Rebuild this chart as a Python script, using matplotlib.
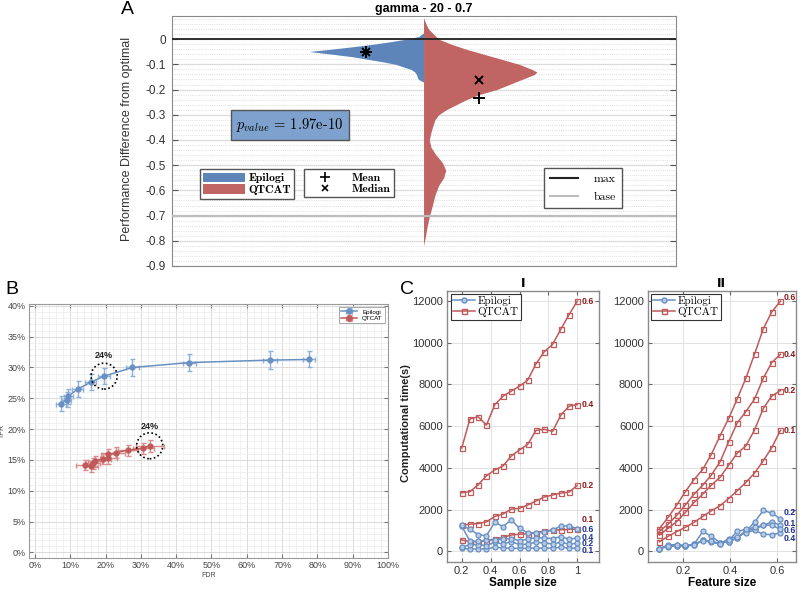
import matplotlib
matplotlib.use('Agg')
import matplotlib.pyplot as plt
from matplotlib.patches import Patch, Ellipse
from matplotlib.lines import Line2D
from matplotlib.ticker import MultipleLocator, PercentFormatter
from matplotlib.font_manager import FontProperties

plt.rcParams['mathtext.fontset'] = 'cm'
plt.rcParams['font.family'] = ['Liberation Sans', 'DejaVu Sans']
plt.rcParams['axes.unicode_minus'] = False

# ---------------- DATA ----------------
# Panel A: split violin (half-widths at given performance-difference levels)
A_title = 'gamma - 20 - 0.7'
A_yticks = [0, -0.1, -0.2, -0.3, -0.4, -0.5, -0.6, -0.7, -0.8, -0.9]
epi_y = [0.025, 0.01, 0.0, -0.01, -0.02, -0.03, -0.04, -0.049, -0.06, -0.07, -0.08,
         -0.09, -0.10, -0.11, -0.12, -0.13, -0.14, -0.15, -0.16, -0.17]
epi_w = [0.0, 0.02, 0.07, 0.13, 0.20, 0.28, 0.37, 0.454, 0.36, 0.28, 0.22,
         0.16, 0.11, 0.08, 0.05, 0.035, 0.028, 0.025, 0.02, 0.0]
qt_y = [0.085, 0.06, 0.04, 0.02, 0.0, -0.02, -0.04, -0.06, -0.08, -0.10, -0.12, -0.13,
        -0.14, -0.16, -0.18, -0.20, -0.22, -0.24, -0.26, -0.28, -0.30, -0.32, -0.35,
        -0.38, -0.40, -0.43, -0.46, -0.49, -0.52, -0.55, -0.58, -0.62, -0.66, -0.70,
        -0.74, -0.78, -0.82]
qt_w = [0.0, 0.01, 0.02, 0.04, 0.06, 0.11, 0.17, 0.24, 0.31, 0.38, 0.43, 0.45,
        0.44, 0.39, 0.34, 0.29, 0.22, 0.17, 0.13, 0.09, 0.06, 0.045, 0.035,
        0.027, 0.023, 0.03, 0.05, 0.075, 0.088, 0.08, 0.06, 0.045, 0.035, 0.024,
        0.015, 0.008, 0.0]
epi_mean, epi_median = -0.049, -0.049
qt_mean, qt_median = -0.232, -0.163
ref_max, ref_base = 0.0, -0.7
p_value = '1.97e-10'

# Panel B: FDR / TPR with error bars
fdr_epi = [0.075, 0.090, 0.094, 0.121, 0.158, 0.196, 0.276, 0.437, 0.667, 0.776]
tpr_epi = [0.241, 0.248, 0.253, 0.265, 0.276, 0.286, 0.300, 0.308, 0.312, 0.313]
fdr_err_epi = [0.014, 0.013, 0.013, 0.015, 0.016, 0.017, 0.019, 0.019, 0.020, 0.017]
tpr_err_epi = [0.012, 0.012, 0.012, 0.013, 0.013, 0.013, 0.014, 0.014, 0.014, 0.013]
fdr_qt = [0.142, 0.160, 0.165, 0.170, 0.193, 0.208, 0.208, 0.231, 0.264, 0.307, 0.325]
tpr_qt = [0.142, 0.140, 0.145, 0.148, 0.152, 0.153, 0.159, 0.162, 0.166, 0.169, 0.173]
fdr_err_qt = [0.025, 0.020, 0.020, 0.020, 0.022, 0.025, 0.022, 0.025, 0.028, 0.030, 0.040]
tpr_err_qt = [0.008, 0.009, 0.009, 0.009, 0.009, 0.009, 0.009, 0.009, 0.009, 0.009, 0.010]
circ_epi_idx, circ_qt_idx = 5, 10
circ_label = '24%'

# Panel C: computational time
sample_size = [0.2, 0.257, 0.314, 0.371, 0.429, 0.486, 0.543, 0.6, 0.657, 0.714,
               0.771, 0.829, 0.886, 0.943, 1.0]
feature_size = [0.1, 0.137, 0.173, 0.21, 0.247, 0.284, 0.32, 0.357, 0.394, 0.43,
                0.467, 0.504, 0.541, 0.577, 0.614]
levels = ['0.1', '0.2', '0.4', '0.6']

qt_sample = {
    '0.6': [4950, 6350, 6450, 6050, 7030, 7440, 7680, 7920, 8210, 8990, 9570, 9920, 10650, 11350, 12000],
    '0.4': [2810, 2860, 3190, 3620, 3900, 4090, 4570, 4860, 5130, 5800, 5850, 5750, 6530, 6960, 7030],
    '0.2': [1250, 1300, 1330, 1410, 1670, 1790, 2020, 2060, 2220, 2410, 2600, 2700, 2790, 2840, 3160],
    '0.1': [540, 460, 460, 510, 590, 670, 780, 820, 840, 900, 970, 1020, 1030, 1050, 1060],
}
epi_sample = {
    '0.6': [1250, 1050, 800, 740, 1400, 1180, 1510, 1100, 880, 880, 920, 1020, 1210, 1210, 1090],
    '0.4': [1210, 480, 480, 530, 560, 580, 610, 510, 580, 650, 640, 610, 700, 580, 640],
    '0.2': [190, 320, 320, 270, 430, 350, 460, 320, 350, 430, 400, 350, 430, 350, 380],
    '0.1': [140, 110, 110, 110, 190, 160, 140, 140, 140, 160, 140, 160, 190, 160, 140],
}
qt_feature = {
    '0.6': [1090, 1630, 2210, 2860, 3440, 3930, 4640, 5530, 6370, 7300, 8300, 9460, 10670, 11480, 12000],
    '0.4': [960, 1300, 1720, 2220, 2740, 3170, 3650, 4280, 5250, 6150, 6700, 7300, 8300, 9050, 9450],
    '0.2': [780, 1100, 1420, 1860, 2340, 2740, 3170, 3540, 4130, 4700, 5050, 5820, 6850, 7440, 7710],
    '0.1': [460, 720, 940, 1150, 1390, 1670, 1940, 2180, 2530, 2900, 3300, 3750, 4340, 4970, 5800],
}
epi_feature = {
    '0.2': [130, 300, 320, 260, 330, 950, 720, 420, 450, 650, 950, 1400, 1960, 1830, 1550],
    '0.1': [130, 240, 270, 240, 340, 520, 470, 390, 460, 620, 1000, 1050, 1250, 1400, 1250],
    '0.6': [130, 270, 300, 280, 320, 500, 480, 330, 520, 950, 1050, 1150, 1250, 1250, 1050],
    '0.4': [130, 220, 260, 230, 310, 520, 430, 360, 600, 700, 900, 1000, 820, 800, 880],
}

# ---------------- STYLE ----------------
BLUE_FILL = '#5d85ba'
RED_FILL = '#c16464'
BLUE = '#6890c3'
BLUE_ERR = '#8fb0d8'
RED = '#c05a5a'
RED_ERR = '#d98c8a'
DARK_RED = '#8b1c1c'
NAVY = '#1f2f8f'
TXT = '#333333'

fig = plt.figure(figsize=(8, 5.92), dpi=100)

# ================= PANEL A =================
axA = fig.add_axes([0.2144, 0.5507, 0.63, 0.4223])
axA.fill_betweenx(epi_y, [-w for w in epi_w], 0, color=BLUE_FILL, lw=0, zorder=2)
axA.fill_betweenx(qt_y, 0, qt_w, color=RED_FILL, lw=0, zorder=2)
axA.axhline(ref_max, color='#222222', lw=1.3, zorder=3)
axA.axhline(ref_base, color='#bdbdbd', lw=1.6, zorder=3)
axA.set_xlim(-1, 1)
axA.set_ylim(-0.9, 0.092)
axA.set_xticks([])
axA.set_yticks(A_yticks)
axA.set_yticklabels(['0' if v == 0 else f'{v:.1f}' for v in A_yticks])
axA.yaxis.set_minor_locator(MultipleLocator(0.02))
axA.yaxis.grid(True, which='major', color='#dcdcdc', lw=0.9, zorder=0)
axA.yaxis.grid(True, which='minor', color='#d4d4d4', lw=0.6, ls=':', zorder=0)
axA.set_axisbelow(True)
axA.tick_params(axis='y', which='major', direction='in', left=True, right=True,
                length=4, labelsize=8.5, labelcolor=TXT, color='#555', pad=4)
axA.tick_params(axis='y', which='minor', length=0)
for s in axA.spines.values():
    s.set_color('#8a8a8a')
axA.set_title(A_title, fontsize=9, fontweight='bold', pad=3)
axA.set_ylabel('Performance Difference from optimal', fontsize=9, color=TXT)
axA.yaxis.set_label_coords(-0.077, 0.51)

x_epi_mark, x_qt_mark = -0.227, 0.222
axA.plot([x_epi_mark], [epi_mean], marker='+', color='k', ms=8, mew=1.4, zorder=5)
axA.plot([x_epi_mark], [epi_median], marker='x', color='k', ms=6, mew=1.4, zorder=5)
axA.plot([x_qt_mark], [qt_mean], marker='+', color='k', ms=8, mew=1.4, zorder=5)
axA.plot([x_qt_mark], [qt_median], marker='x', color='k', ms=6, mew=1.4, zorder=5)

axA.text(0.235, 0.563, r'$p_{value}$ = ' + p_value, transform=axA.transAxes,
         ha='center', va='center', fontsize=10.5, family='cmr10', zorder=6,
         bbox=dict(boxstyle='square,pad=0.4', fc='#7ea1cd', ec='#555555', lw=1))

leg_kw = dict(frameon=True, fancybox=False, edgecolor='#555555', framealpha=1,
              borderaxespad=0)
leg1 = axA.legend(handles=[Patch(fc=BLUE_FILL), Patch(fc=RED_FILL)],
                  labels=['Epilogi', 'QTCAT'], loc='upper left',
                  bbox_to_anchor=(0.056, 0.388),
                  prop=FontProperties(family='cmb10', size=8.5),
                  handlelength=3.5, handleheight=0.9, handletextpad=0.3,
                  borderpad=0.3, labelspacing=0.05, **leg_kw)
leg1.get_frame().set_linewidth(1.0)
axA.add_artist(leg1)
leg2 = axA.legend(handles=[Line2D([], [], ls='none', marker='+', color='k', ms=7, mew=1.2),
                           Line2D([], [], ls='none', marker='x', color='k', ms=5, mew=1.2)],
                  labels=['Mean', 'Median'], loc='upper left',
                  bbox_to_anchor=(0.262, 0.388),
                  prop=FontProperties(family='cmb10', size=8.5),
                  handlelength=3.0, handletextpad=0.8, borderpad=0.3,
                  labelspacing=0.05, **leg_kw)
leg2.get_frame().set_linewidth(1.0)
axA.add_artist(leg2)
leg3 = axA.legend(handles=[Line2D([], [], color='#222222', lw=1.5),
                           Line2D([], [], color='#bdbdbd', lw=1.5)],
                  labels=['max', 'base'], loc='upper left',
                  bbox_to_anchor=(0.739, 0.391),
                  prop=FontProperties(family='cmr10', size=8.5),
                  handlelength=2.4, handletextpad=1.3, borderpad=0.5,
                  labelspacing=0.6, **leg_kw)
leg3.get_frame().set_linewidth(1.0)

# ================= PANEL B =================
axB = fig.add_axes([0.0366, 0.0574, 0.4484, 0.4291])
axB.errorbar(fdr_epi, tpr_epi, xerr=fdr_err_epi, yerr=tpr_err_epi, fmt='-o',
             color=BLUE, ecolor=BLUE_ERR, elinewidth=1.0, capsize=1.8,
             ms=3.5, lw=1.1, label='Epilogi', zorder=3)
axB.errorbar(fdr_qt, tpr_qt, xerr=fdr_err_qt, yerr=tpr_err_qt, fmt='-o',
             color=RED, ecolor=RED_ERR, elinewidth=1.0, capsize=1.8,
             ms=3.5, lw=1.1, label='QTCAT', zorder=3)
axB.set_xlim(-0.016, 1.0)
axB.set_ylim(-0.009, 0.403)
axB.xaxis.set_major_locator(MultipleLocator(0.1))
axB.yaxis.set_major_locator(MultipleLocator(0.05))
axB.xaxis.set_minor_locator(MultipleLocator(0.02))
axB.yaxis.set_minor_locator(MultipleLocator(0.01))
axB.xaxis.set_major_formatter(PercentFormatter(1.0, decimals=0))
axB.yaxis.set_major_formatter(PercentFormatter(1.0, decimals=0))
axB.grid(True, which='major', color='#d6d6d6', lw=0.6)
axB.grid(True, which='minor', color='#ebebeb', lw=0.5)
axB.set_axisbelow(True)
axB.tick_params(which='major', direction='in', top=True, right=True, length=3,
                labelsize=6.5, labelcolor='#444444', color='#777', pad=2.5)
axB.tick_params(which='minor', length=0)
for s in axB.spines.values():
    s.set_color('#9a9a9a')
axB.set_xlabel('FDR', fontsize=5, color='#444444', labelpad=1)
axB.set_ylabel('TPR', fontsize=5, color='#444444')
axB.yaxis.set_label_coords(-0.066, 0.5)
for (fx, ty, dy) in [(fdr_epi[circ_epi_idx], tpr_epi[circ_epi_idx], 0.034),
                     (fdr_qt[circ_qt_idx], tpr_qt[circ_qt_idx], 0.031)]:
    axB.add_patch(Ellipse((fx, ty), 0.074, 0.042, fill=False, ls=(0, (1, 1.5)),
                          lw=1.2, ec='k', zorder=4))
    axB.text(fx, ty + dy, circ_label, ha='center', va='center', fontsize=6.5,
             fontweight='bold', color='#222222')
legB = axB.legend(loc='upper right', fontsize=4.5, fancybox=False, edgecolor='#9a9a9a',
                  framealpha=1, handlelength=2.6, borderpad=0.35, labelspacing=0.15,
                  borderaxespad=0.5)
legB.get_frame().set_linewidth(0.6)

# ================= PANEL C =================
def draw_c(ax, xs, epi, qt, xlim, xticks, xticklabels, xlabel, title,
           red_lab, blue_lab, lab_dx):
    for lv in levels:
        ax.plot(xs, qt[lv], '-s', color=RED, lw=1.1, ms=3.6, mfc='none', mew=0.9, zorder=3)
    for lv in levels:
        ax.plot(xs, epi[lv], '-o', color=BLUE, lw=1.1, ms=3.6, mfc='#b9cde8',
                mec=BLUE, mew=0.9, zorder=4)
    for lv, yv in red_lab.items():
        ax.text(xs[-1] + lab_dx, yv, lv, color=DARK_RED, fontsize=6.3,
                fontweight='bold', va='center', ha='left')
    for lv, yv in blue_lab.items():
        ax.text(xs[-1] + lab_dx, yv, lv, color=NAVY, fontsize=6.3,
                fontweight='bold', va='center', ha='left')
    ax.set_xlim(*xlim)
    ax.set_ylim(-500, 12500)
    ax.set_xticks(xticks)
    ax.set_xticklabels(xticklabels)
    ax.set_yticks([0, 2000, 4000, 6000, 8000, 10000, 12000])
    ax.grid(True, color='#e2e2e2', lw=0.7)
    ax.set_axisbelow(True)
    ax.tick_params(direction='in', top=True, right=True, length=3, labelsize=8,
                   labelcolor=TXT, color='#666', pad=3)
    for s in ax.spines.values():
        s.set_color('#8a8a8a')
        s.set_linewidth(1.0)
    ax.set_xlabel(xlabel, fontsize=8.5, fontweight='bold', labelpad=1)
    ax.set_title(title, fontsize=9, fontweight='bold', pad=3,
                 family=['DejaVu Sans'])
    handles = [Line2D([], [], color=BLUE, marker='o', ms=3.6, mfc='#b9cde8', lw=1.1),
               Line2D([], [], color=RED, marker='s', ms=3.6, mfc='none', lw=1.1)]
    lg = ax.legend(handles, ['Epilogi', 'QTCAT'], loc='upper left',
                   prop=FontProperties(family='cmr10', size=8), fancybox=False,
                   edgecolor='#333333', framealpha=1, handlelength=2.0,
                   handletextpad=0.2, borderpad=0.2, labelspacing=0.1,
                   borderaxespad=0.3)
    lg.get_frame().set_linewidth(0.8)

axC1 = fig.add_axes([0.5591, 0.0512, 0.1896, 0.4578])
draw_c(axC1, sample_size, epi_sample, qt_sample, (0.1, 1.15),
       [0.2, 0.4, 0.6, 0.8, 1.0], ['0.2', '0.4', '0.6', '0.8', '1'],
       'Sample size', 'I',
       {'0.6': 12000, '0.4': 7030, '0.2': 3160, '0.1': 1500},
       {'0.6': 1060, '0.4': 660, '0.2': 380, '0.1': 20}, 0.03)
axC2 = fig.add_axes([0.8096, 0.0512, 0.1854, 0.4578])
draw_c(axC2, feature_size, epi_feature, qt_feature, (0.05, 0.68),
       [0.2, 0.4, 0.6], ['0.2', '0.4', '0.6'],
       'Feature size', 'II',
       {'0.6': 12150, '0.4': 9450, '0.2': 7720, '0.1': 5800},
       {'0.2': 1880, '0.1': 1320, '0.6': 1020, '0.4': 620}, 0.015)

fig.text(406 / 800, 0.285, 'Computational time(s)', rotation=90, ha='center',
         va='center', fontsize=8, fontweight='bold', color='#222222')

# panel letters
fig.text(127 / 800, 1 - 10 / 592, 'A', fontsize=14, ha='center', va='center')
fig.text(12 / 800, 1 - 290 / 592, 'B', fontsize=14, ha='center', va='center')
fig.text(407 / 800, 1 - 290 / 592, 'C', fontsize=14, ha='center', va='center')

fig.savefig('out.png', dpi=100)
